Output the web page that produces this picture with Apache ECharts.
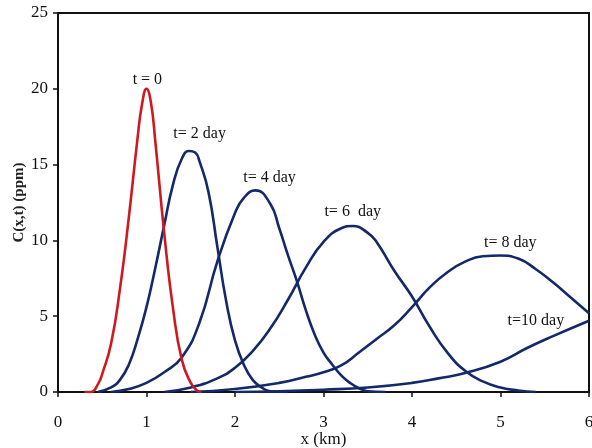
<!DOCTYPE html>
<html>
<head>
<meta charset="utf-8">
<script src="https://cdn.jsdelivr.net/npm/echarts@6/dist/echarts.min.js"></script>
<style>html,body{margin:0;padding:0;background:#fff}#c{width:592px;height:448px}</style>
</head>
<body>
<div id="c"></div>
<script>
// x (km) ticks and y (ppm) ticks
var xTicks = [0, 1, 2, 3, 4, 5, 6];
var yTicks = [0, 5, 10, 15, 20, 25];

// concentration profiles: [x (km), C (ppm)]
var t0 = [[0.30,0],[0.37,0],[0.45,0.5],[0.5,1.2],[0.6,3.2],[0.7,6.8],[0.8,11.5],[0.9,16.8],[0.95,19.0],[1.0,20],[1.05,19.1],[1.1,16.5],[1.2,10.5],[1.3,5.5],[1.4,2.1],[1.5,0.6],[1.57,0.1],[1.62,0]];
var t2 = [[0.45,0],[0.6,0.3],[0.7,0.8],[0.8,1.8],[0.9,3.5],[1.0,5.6],[1.1,8.2],[1.2,11.0],[1.3,13.7],[1.4,15.4],[1.48,15.9],[1.55,15.8],[1.6,15.2],[1.7,13.2],[1.8,9.6],[1.9,6.0],[2.0,3.4],[2.1,1.8],[2.2,0.8],[2.3,0.3],[2.4,0.05],[2.6,0]];
var t4 = [[0.6,0],[0.8,0.2],[1.0,0.6],[1.2,1.3],[1.4,2.3],[1.6,4.6],[1.8,8.6],[2.0,11.8],[2.1,12.8],[2.23,13.3],[2.4,12.4],[2.5,10.8],[2.6,9.0],[2.7,7.3],[2.8,5.4],[2.9,3.8],[3.0,2.6],[3.1,1.8],[3.2,1.1],[3.3,0.6],[3.4,0.25],[3.5,0.05],[3.7,0]];
var t6 = [[1.2,0],[1.5,0.3],[1.8,0.9],[2.0,1.6],[2.2,2.7],[2.4,4.2],[2.6,6.1],[2.8,8.2],[3.0,9.9],[3.2,10.8],[3.33,10.95],[3.5,10.5],[3.6,9.9],[3.8,8.0],[4.0,6.3],[4.2,4.3],[4.4,2.6],[4.6,1.4],[4.8,0.7],[5.0,0.3],[5.2,0.1],[5.4,0]];
var t8 = [[1.5,0],[2.0,0.2],[2.5,0.6],[2.8,1.0],[3.0,1.3],[3.2,1.75],[3.4,2.6],[3.6,3.5],[3.8,4.4],[4.0,5.6],[4.2,6.9],[4.4,7.9],[4.6,8.6],[4.8,8.95],[5.0,9.0],[5.2,8.8],[5.4,8.1],[5.6,7.2],[5.8,6.2],[6.0,5.2]];
var t10 = [[2.0,0],[2.5,0.05],[3.0,0.15],[3.5,0.3],[4.0,0.6],[4.3,0.9],[4.6,1.25],[5.0,2.0],[5.3,2.9],[5.6,3.7],[6.0,4.7]];

// curve labels and where they sit (data coordinates)
var labelTexts = ['t = 0', 't= 2 day', 't= 4 day', 't= 6  day', 't= 8 day', 't=10 day'];
var labelX = [1.01, 1.60, 2.39, 3.33, 5.11, 5.40];
var labelY = [20.6, 17.0, 14.1, 11.9, 9.85, 4.7];

var curves = [t0, t2, t4, t6, t8, t10];
var colors = ['#cc1a1f', '#14286a', '#14286a', '#14286a', '#14286a', '#14286a'];
var serif = '"Liberation Serif", "DejaVu Serif", serif';

var series = curves.map(function (d, i) {
  return {
    type: 'line',
    data: d,
    smooth: 0.5,
    showSymbol: false,
    lineStyle: { color: colors[i], width: 2.6 },
    z: i === 0 ? 3 : 2,
    markPoint: {
      symbol: 'circle', symbolSize: 0,
      label: { show: true, position: 'inside', color: '#111', fontFamily: serif, fontSize: 16,
               formatter: function (p) { return p.name; } },
      data: [{ name: labelTexts[i], coord: [labelX[i], labelY[i]] }]
    }
  };
});

var chart = echarts.init(document.getElementById('c'), null, { renderer: 'canvas' });
chart.setOption({
  animation: false,
  backgroundColor: '#fff',
  grid: { left: 58, right: 3, top: 13, bottom: 56, containLabel: false, outerBoundsMode: 'none',
          show: true, borderColor: '#111', borderWidth: 2, backgroundColor: 'transparent' },
  xAxis: {
    type: 'value', min: xTicks[0], max: xTicks[xTicks.length - 1], interval: 1,
    name: 'x (km)', nameLocation: 'middle', nameGap: 39, nameMoveOverlap: false,
    nameTextStyle: { fontFamily: serif, fontSize: 17, color: '#111' },
    axisLine: { show: true, onZero: false, lineStyle: { color: '#111', width: 2 } },
    axisTick: { show: true, inside: false, length: 5, lineStyle: { color: '#111', width: 1.5 } },
    axisLabel: { margin: 22, fontFamily: serif, fontSize: 17, color: '#111' },
    splitLine: { show: false }
  },
  yAxis: {
    type: 'value', min: yTicks[0], max: yTicks[yTicks.length - 1], interval: 5,
    name: 'C(x,t) (ppm)', nameLocation: 'middle', nameGap: 31, nameRotate: 90, nameMoveOverlap: false,
    nameTextStyle: { fontFamily: serif, fontSize: 15, fontWeight: 'bold', color: '#222' },
    axisLine: { show: true, onZero: false, lineStyle: { color: '#111', width: 2 } },
    axisTick: { show: true, inside: false, length: 5, lineStyle: { color: '#111', width: 1.5 } },
    axisLabel: { margin: 10, fontFamily: serif, fontSize: 17, color: '#111' },
    splitLine: { show: false }
  },
  series: series
});
</script>
</body>
</html>
